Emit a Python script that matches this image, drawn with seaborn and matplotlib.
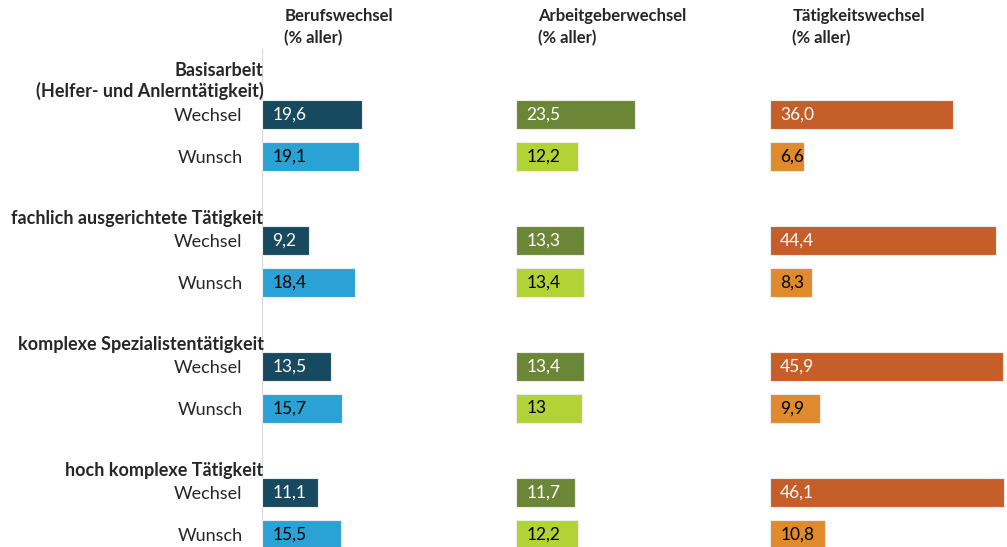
import matplotlib
matplotlib.use("Agg")
import pandas as pd
import matplotlib.pyplot as plt
import seaborn as sns

# data
gruppen = ["Basisarbeit\n(Helfer- und Anlerntätigkeit)",
           "fachlich ausgerichtete Tätigkeit",
           "komplexe Spezialistentätigkeit",
           "hoch komplexe Tätigkeit"]
typen = ["Wechsel", "Wunsch"]

berufswechsel = [19.6, 19.1, 9.2, 18.4, 13.5, 15.7, 11.1, 15.5]
arbeitgeberwechsel = [23.5, 12.2, 13.3, 13.4, 13.4, 13.0, 11.7, 12.2]
taetigkeitswechsel = [36.0, 6.6, 44.4, 8.3, 45.9, 9.9, 46.1, 10.8]

berufswechsel_txt = ["19,6", "19,1", "9,2", "18,4", "13,5", "15,7", "11,1", "15,5"]
arbeitgeberwechsel_txt = ["23,5", "12,2", "13,3", "13,4", "13,4", "13", "11,7", "12,2"]
taetigkeitswechsel_txt = ["36,0", "6,6", "44,4", "8,3", "45,9", "9,9", "46,1", "10,8"]

titel = ["Berufswechsel\n(% aller)", "Arbeitgeberwechsel\n(% aller)", "Tätigkeitswechsel\n(% aller)"]
farben = [
    {"Wechsel": "#174a5e", "Wunsch": "#2aa2d5"},
    {"Wechsel": "#6b8636", "Wunsch": "#b3d236"},
    {"Wechsel": "#c55e28", "Wunsch": "#df8a2c"},
]

sns.set_style("white")
plt.rcParams["font.family"] = ["Lato", "DejaVu Sans"]

# one row per bar plus an empty spacer row after each group
rows, order = [], []
for gi in range(len(gruppen)):
    for t in typen:
        rows.append({"row": f"{gi}_{t}", "Typ": t})
        order.append(f"{gi}_{t}")
    order.append(f"{gi}_gap")
df = pd.DataFrame(rows)
df["Berufswechsel"] = berufswechsel
df["Arbeitgeberwechsel"] = arbeitgeberwechsel
df["Tätigkeitswechsel"] = taetigkeitswechsel
spalten = ["Berufswechsel", "Arbeitgeberwechsel", "Tätigkeitswechsel"]
texte = [berufswechsel_txt, arbeitgeberwechsel_txt, taetigkeitswechsel_txt]

W, H = 1007, 547
fig = plt.figure(figsize=(W / 100, H / 100), dpi=100)
px_per_unit = 5.08
lefts = [262, 516, 770]
widths = [254, 254, 237]

for k, col in enumerate(spalten):
    ax = fig.add_axes([lefts[k] / W, 0, widths[k] / W, 1])
    sns.barplot(data=df, y="row", x=col, hue="Typ", palette=farben[k],
                order=order, dodge=False, width=0.69, orient="h", saturation=1,
                edgecolor="#ececec", linewidth=0.8, legend=False, ax=ax)
    ax.set_xlim(0, widths[k] / px_per_unit)
    ax.set_ylim(10.3, -2.73)
    ax.set_xlabel("")
    ax.set_ylabel("")
    ax.set_xticks([])
    sns.despine(ax=ax, left=True, bottom=True)

    # value labels inside the bars
    for i, r in df.iterrows():
        y = order.index(r["row"])
        c = "white" if r["Typ"] == "Wechsel" else "black"
        ax.text(2.0, y, texte[k][i], color=c, fontsize=12.5, va="center", ha="left")

    ax.text(4.4, -2.55, titel[k], fontsize=12, fontweight="bold", va="top",
            ha="left", linespacing=1.45)

    if k == 0:
        ticks = [order.index(r) for r in df["row"]]
        ax.set_yticks(ticks)
        ax.set_yticklabels(df["Typ"], fontsize=13)
        ax.tick_params(axis="y", length=0, pad=14)
        ax.axvline(0, ymin=0, ymax=0.909, color="#d9d9d9", lw=1.6, zorder=0)
        for gi, g in enumerate(gruppen):
            y0 = order.index(f"{gi}_Wechsel")
            n = g.count("\n")
            ax.text(0.3, y0 - 0.53 - 0.27 * n, g, fontsize=13, fontweight="bold",
                    ha="right", va="center", multialignment="right", linespacing=1.25)
    else:
        ax.set_yticks([])

fig.savefig("out.png", dpi=100)
